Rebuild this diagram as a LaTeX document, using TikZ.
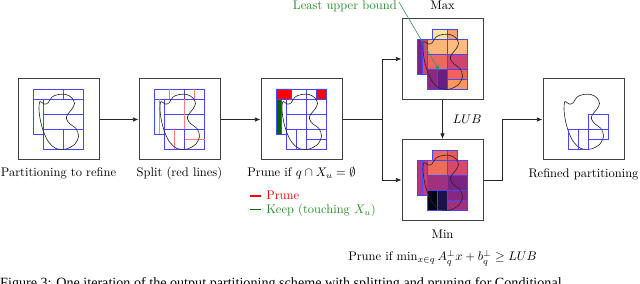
\documentclass[tikz,border=0pt]{standalone}
\usepackage{fontspec}
\newfontfamily\capfont{Liberation Serif}
\usetikzlibrary{arrows.meta}
\definecolor{gblue}{RGB}{70,70,255}
\definecolor{lred}{RGB}{255,125,125}
\definecolor{kgreen}{RGB}{0,100,0}
\definecolor{tgreen}{RGB}{40,140,40}
\definecolor{arrgreen}{RGB}{60,150,90}
% Max colours
\definecolor{xa}{HTML}{FDE3A5}\definecolor{xb}{HTML}{F8A06F}
\definecolor{xc}{HTML}{7A2483}\definecolor{xd}{HTML}{D6456C}
\definecolor{xe}{HTML}{FBB47B}\definecolor{xf}{HTML}{FCBB80}
\definecolor{xg}{HTML}{F0685F}\definecolor{xh}{HTML}{CF4470}
\definecolor{xi}{HTML}{8C2A81}\definecolor{xj}{HTML}{6A1E80}
\definecolor{xk}{HTML}{F1625D}\definecolor{xl}{HTML}{F9975E}
% Min colours
\definecolor{na}{HTML}{EE6A5C}\definecolor{nb}{HTML}{E55A5F}
\definecolor{nc}{HTML}{B3377B}\definecolor{nd}{HTML}{C63F74}
\definecolor{ne}{HTML}{EF6C5D}\definecolor{nf}{HTML}{D8486A}
\definecolor{ng}{HTML}{A1307E}\definecolor{nh}{HTML}{7B2382}
\definecolor{ni}{HTML}{050416}\definecolor{nj}{HTML}{1E1146}
\definecolor{nk}{HTML}{862781}\definecolor{nl}{HTML}{A3307E}
\tikzset{
 panel/.style={draw=black!75, line width=0.8pt, minimum size=64.8pt, inner sep=0pt},
 conn/.style={draw=black!85, line width=0.6pt},
 arr/.style={conn,-{Latex[length=4.5pt,width=3.6pt]}},
 gl/.style={draw=gblue, line width=0.5pt},
 rl/.style={draw=lred, line width=0.6pt},
 blobline/.style={draw=black!85, line width=0.5pt},
 lbl/.style={inner sep=0pt, anchor=base},
}
\newcommand\myblob{\draw[blobline] plot[smooth cycle, tension=0.55] coordinates {(22,22.5) (26,25) (30,24) (34,18) (40.5,15.5) (48,15.5) (54,19) (56.5,24.5) (54,30) (49.5,35.5) (48.5,40) (52,45) (58,49.5) (60.5,57) (57,65) (48,70) (38,69.5) (31,63.5) (26,54) (22.5,42) (21,30)};}
\newcommand\gridA{\draw[gl] (15,10) rectangle (65.5,20) (45.5,10) -- (45.5,20)
   (15,20) rectangle (25.5,55) (25.5,20) rectangle (65.5,70.5)
   (25.5,35) -- (65.5,35) (25.5,50.5) -- (65.5,50.5) (45.5,50.5) -- (45.5,70.5);}
\newcommand\splitlines[1]{\draw[#1] (30,10) -- (30,20) (55.5,10) -- (55.5,20) (20.5,20) -- (20.5,55)
   (45.5,20) -- (45.5,50.5) (35.5,50.5) -- (35.5,70.5) (45.5,60) -- (65.5,60);}
\newcommand\pcell[5]{\filldraw[fill=#5, draw=gblue, line width=0.6pt] (#1,#2) rectangle (#3,#4);}
\newcommand\colgrid[1]{%
 \pcell{30}{10}{45.5}{20}{#1a}\pcell{45.5}{10}{55.5}{20}{#1b}
 \pcell{15}{20}{20.5}{55}{#1c}\pcell{20.5}{20}{25.5}{55}{#1d}
 \pcell{25.5}{20}{45.5}{35}{#1e}\pcell{45.5}{20}{65.5}{35}{#1f}
 \pcell{25.5}{35}{45.5}{50.5}{#1g}\pcell{45.5}{35}{65.5}{50.5}{#1h}
 \pcell{25.5}{50.5}{35.5}{70.5}{#1i}\pcell{35.5}{50.5}{45.5}{70.5}{#1j}
 \pcell{45.5}{50.5}{65.5}{60}{#1k}\pcell{45.5}{60}{65.5}{70.5}{#1l}}
\begin{document}
\begin{tikzpicture}[x=0.8pt,y=-0.8pt]
\useasboundingbox (0,0) rectangle (640,284);
% panels
\node[panel] (b1) at (58.5,119.5) {};
\node[panel] (b2) at (179.5,119.5) {};
\node[panel] (b3) at (301.5,119.5) {};
\node[panel] (mx) at (442.5,59) {};
\node[panel] (mn) at (442.5,180) {};
\node[panel] (rf) at (583.5,119.5) {};
% panel 1
\begin{scope}[shift={(18,79)}]
 \gridA \myblob
\end{scope}
% panel 2
\begin{scope}[shift={(139,79)}]
 \gridA \splitlines{rl} \myblob
\end{scope}
% panel 3
\begin{scope}[shift={(261,79)}]
 \fill[red] (15,10) rectangle (30,20) (55.5,10) rectangle (65.5,20);
 \fill[kgreen] (15,20) rectangle (20.5,55);
 \gridA \splitlines{gl} \myblob
\end{scope}
% Max
\begin{scope}[shift={(402,19)}]
 \colgrid{x} \myblob
 \coordinate (lubt) at (37.5,52);
\end{scope}
% Min
\begin{scope}[shift={(402,140)}]
 \colgrid{n} \myblob
\end{scope}
% Refined
\begin{scope}[shift={(543,79)}]
 \myblob
 \draw[gl] (45.5,35) rectangle (65.5,60) (45.5,50.5) -- (65.5,50.5)
   (25.5,50.5) rectangle (45.5,70.5) (35.5,50.5) -- (35.5,70.5);
\end{scope}
% labels
\node[lbl] (l1) at (58.5,177) {Partitioning to refine};
\node[lbl] (l2) at (179.5,177) {Split (red lines)};
\node[lbl] (l3) at (301.5,177) {Prune if $q\cap X_u=\emptyset$};
\node[lbl] (l5) at (583.5,177.5) {Refined partitioning};
\node[lbl] (lmx) at (442.5,9.5) {Max};
\node[lbl] (lmn) at (442.5,238.5) {Min};
\node[lbl, anchor=base east, text=tgreen] (lub) at (397,9.5) {Least upper bound};
\node[lbl, anchor=base west] (pr) at (348,261) {Prune if $\min_{x\in q} A_q^{\perp} x + b_q^{\perp} \geq LUB$};
% legend
\draw[red, line width=1.1pt] (250,196) -- (260.5,196);
\node[lbl, anchor=base west, text=red] (lgp) at (266,200) {Prune};
\draw[kgreen, line width=1.1pt] (250,209.5) -- (260.5,209.5);
\node[lbl, anchor=base west, text=tgreen] (lgk) at (266,213.5) {Keep (touching $X_u$)};
% connectors
\coordinate (j) at (382,119.5);
\coordinate (k) at (502,119.5);
\draw[arr] (b1) -- (b2);
\draw[arr] (b2) -- (b3);
\draw[arr] (b3.east) -- (j) |- (mx.west);
\draw[arr] (j) |- (mn.west);
\draw[arr] (mx.south) -- node[lbl, anchor=west, xshift=8pt] (lublbl) {$LUB$} (mn.north);
\draw[arr] (mn.east) -| (k) -- (rf.west);
\draw[arrgreen, line width=0.5pt, -{Latex[length=4.5pt,width=3.6pt]}] ([xshift=1.5pt,yshift=-1pt]lub.north east) -- (lubt);
% caption (cut off)
\node[lbl, anchor=base west, font=\capfont\fontsize{11.3}{13}\selectfont] (cap) at (0,287.5) {Figure 3: One iteration of the output partitioning scheme with splitting and pruning for Conditional};
\end{tikzpicture}
\end{document}
